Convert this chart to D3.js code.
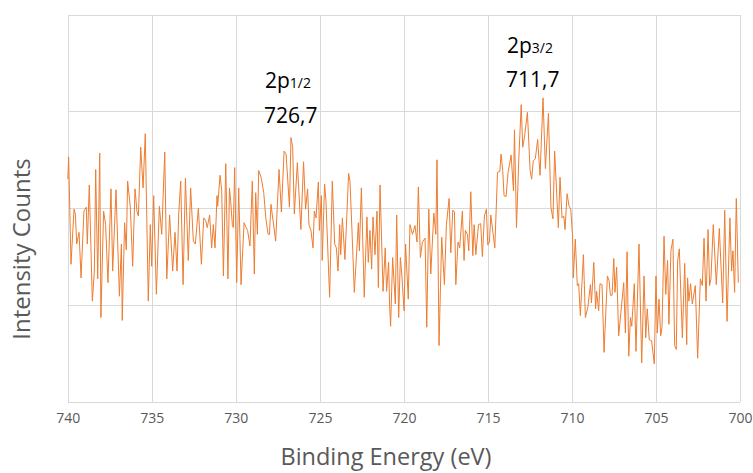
<!DOCTYPE html>
<html>
<head>
<meta charset="utf-8">
<script src="https://cdn.jsdelivr.net/npm/d3@7"></script>
<style>
  html, body { margin: 0; padding: 0; background: #ffffff; }
  svg { display: block; }
</style>
</head>
<body>
<div id="chart"></div>
<script>
// ---- Data ----
const energy = [
  740.00,739.95,739.81,739.63,739.55,739.47,739.33,739.21,739.04,738.90,738.84,738.72,738.54,738.42,738.34,738.22,738.10,738.03,737.87,737.75,
  737.61,737.43,737.33,737.13,736.93,736.81,736.76,736.62,736.52,736.44,736.28,736.14,736.00,735.88,735.80,735.66,735.52,735.39,735.21,735.09,
  735.01,734.89,734.73,734.55,734.41,734.23,734.11,733.94,733.76,733.62,733.50,733.40,733.28,733.14,733.00,732.83,732.69,732.53,732.41,732.23,
  732.05,731.91,731.79,731.70,731.56,731.44,731.34,731.24,731.12,731.08,730.94,730.84,730.74,730.60,730.47,730.38,730.31,730.21,730.15,730.07,
  729.95,729.83,729.69,729.51,729.39,729.30,729.16,729.02,728.90,728.82,728.72,728.64,728.50,728.34,728.22,728.08,728.00,727.91,727.63,727.43,
  727.29,727.13,727.01,726.81,726.72,726.62,726.52,726.34,726.13,725.97,725.85,725.73,725.65,725.53,725.41,725.33,725.23,725.09,725.03,724.91,
  724.86,724.72,724.64,724.42,724.26,724.12,724.02,723.92,723.82,723.76,723.66,723.51,723.29,723.21,723.09,722.95,722.71,722.65,722.53,722.36,
  722.20,722.12,722.02,721.92,721.84,721.72,721.60,721.52,721.42,721.24,721.11,721.03,720.91,720.85,720.79,720.67,720.51,720.43,720.31,720.21,
  720.11,719.99,719.90,719.74,719.64,719.49,719.34,719.22,719.14,719.02,718.90,718.74,718.64,718.52,718.40,718.22,718.10,718.03,717.91,717.75,
  717.59,717.47,717.31,717.21,717.09,716.99,716.91,716.78,716.68,716.52,716.42,716.34,716.22,716.14,716.02,715.90,715.82,715.72,715.56,715.43,
  715.33,715.21,715.09,715.01,714.91,714.83,714.59,714.43,714.29,714.22,714.12,714.04,713.92,713.80,713.62,713.48,713.42,713.30,713.16,713.02,
  712.93,712.83,712.65,712.49,712.40,712.30,712.18,712.04,711.90,711.72,711.58,711.40,711.25,711.13,711.03,710.81,710.71,710.59,710.49,710.41,
  710.29,710.17,710.07,709.96,709.92,709.80,709.68,709.60,709.50,709.32,709.20,709.06,708.90,708.84,708.70,708.59,708.53,708.41,708.33,708.21,
  708.09,707.89,707.79,707.71,707.61,707.51,707.44,707.34,707.22,706.92,706.82,706.72,706.62,706.52,706.44,706.29,706.19,706.01,705.85,705.71,
  705.61,705.52,705.40,705.26,705.10,705.00,704.92,704.82,704.72,704.64,704.52,704.42,704.31,704.23,704.11,703.99,703.89,703.79,703.71,703.61,
  703.43,703.29,703.17,703.12,703.04,702.94,702.84,702.66,702.52,702.36,702.24,702.14,702.02,701.90,701.81,701.73,701.59,701.41,701.23,701.03,
  700.91,700.77,700.60,700.50,700.42,700.32,700.22,700.10
];
const counts = [
  230,253,142,199,194,163,175,128,197,201,163,224,104,135,240,127,257,87,197,183,
  123,220,135,219,109,163,84,185,157,228,201,140,220,196,192,263,221,277,104,183,
  140,213,111,202,173,258,127,193,135,175,135,194,228,121,231,146,221,166,163,200,
  142,190,187,180,193,159,183,159,213,202,234,218,130,246,127,221,208,183,180,242,
  123,221,121,185,180,177,161,228,132,216,173,239,232,216,190,173,173,204,166,240,
  196,259,256,201,273,263,194,247,178,248,199,220,183,177,159,197,190,227,177,213,
  146,225,208,108,228,163,159,135,183,152,190,147,236,228,177,113,185,156,221,108,
  191,144,177,137,191,152,197,118,224,114,159,114,144,99,78,149,101,193,87,149,
  128,94,163,106,183,173,182,165,222,149,165,169,77,199,132,195,173,250,58,170,
  121,183,210,154,198,196,121,165,159,197,146,177,173,156,217,151,183,152,183,184,
  150,192,199,162,165,193,159,237,238,256,239,213,212,237,255,218,281,180,252,307,
  263,273,299,239,230,249,251,271,234,314,241,298,201,189,259,180,232,190,192,178,
  215,202,199,170,128,168,120,122,89,152,87,97,121,102,144,96,114,94,122,121,
  51,130,125,110,110,148,113,139,68,123,71,155,47,87,78,122,52,163,40,130,
  66,96,64,63,39,130,71,106,68,77,171,111,146,80,156,168,58,54,146,158,
  66,143,59,128,104,122,101,120,45,127,120,169,104,178,120,127,183,121,179,102,
  198,83,190,135,156,113,210,123
];
const xTicks = [740, 735, 730, 725, 720, 715, 710, 705, 700];
const yGrid = [0, 100, 200, 300, 400];
const xTitle = "Binding Energy (eV)";
const yTitle = "Intensity Counts";
const peakNames = ["2p", "2p"];
const peakSubs = ["1/2", "3/2"];
const peakValues = ["726,7", "711,7"];

(function () {
  // ---- Layout ----
  const W = 753, H = 473;
  const pL = 67.8, pR = 740, pT = 14.7, pB = 401.7;

  const svg = d3.select("#chart").append("svg")
    .attr("width", W).attr("height", H);

  const x = d3.scaleLinear().domain([740, 700]).range([pL, pR]);
  const y = d3.scaleLinear().domain([0, 400]).range([pB, pT]);

  const font = "'Open Sans', 'Noto Sans', sans-serif";

  // gridlines
  const grid = svg.append("g").attr("shape-rendering", "crispEdges");
  grid.selectAll("line.v").data(xTicks).enter().append("line")
    .attr("x1", d => Math.round(x(d)) + 0.5).attr("x2", d => Math.round(x(d)) + 0.5)
    .attr("y1", pT).attr("y2", pB)
    .attr("stroke", "#d9d9d9").attr("stroke-width", 1);
  grid.selectAll("line.h").data(yGrid).enter().append("line")
    .attr("x1", pL).attr("x2", pR)
    .attr("y1", d => Math.round(y(d)) + 0.5).attr("y2", d => Math.round(y(d)) + 0.5)
    .attr("stroke", "#d9d9d9").attr("stroke-width", 1);

  // x axis labels via d3 axis
  const xAxis = d3.axisBottom(x).tickValues(xTicks).tickSize(0).tickPadding(0)
    .tickFormat(d3.format("d"));
  const gx = svg.append("g").attr("transform", `translate(0, ${pB + 17})`).call(xAxis);
  gx.select(".domain").remove();
  gx.selectAll("text")
    .attr("fill", "#595959")
    .style("font-family", font)
    .style("font-size", "14px")
    .attr("dy", "0.3em");

  // line
  const data = energy.map((e, i) => ({e, c: counts[i]}));
  const line = d3.line().x(d => x(d.e)).y(d => y(d.c));
  svg.append("path").datum(data)
    .attr("d", line)
    .attr("fill", "none")
    .attr("stroke", "#ED7D31")
    .attr("stroke-width", 1)
    .attr("stroke-linejoin", "round");

  // axis titles
  svg.append("text")
    .attr("x", 386).attr("y", 465)
    .attr("text-anchor", "middle")
    .attr("fill", "#595959")
    .style("font-family", font).style("font-size", "23.5px")
    .text(xTitle);

  svg.append("text")
    .attr("transform", `translate(30, 249) rotate(-90)`)
    .attr("text-anchor", "middle")
    .attr("fill", "#595959")
    .style("font-family", font).style("font-size", "24px")
    .text(yTitle);

  // peak annotations
  const annX = [265, 507];
  const annY1 = [88, 53];
  const annY2 = [123, 87];
  for (let i = 0; i < 2; i++) {
    const t = svg.append("text").attr("x", annX[i]).attr("y", annY1[i])
      .attr("fill", "#000").style("font-family", font).style("font-size", "21px");
    t.append("tspan").text(peakNames[i]);
    t.append("tspan").style("font-size", "14px").text(peakSubs[i]);
    svg.append("text").attr("x", annX[i] - 1).attr("y", annY2[i])
      .attr("fill", "#000").style("font-family", font).style("font-size", "21px")
      .text(peakValues[i]);
  }
})();
</script>
</body>
</html>
